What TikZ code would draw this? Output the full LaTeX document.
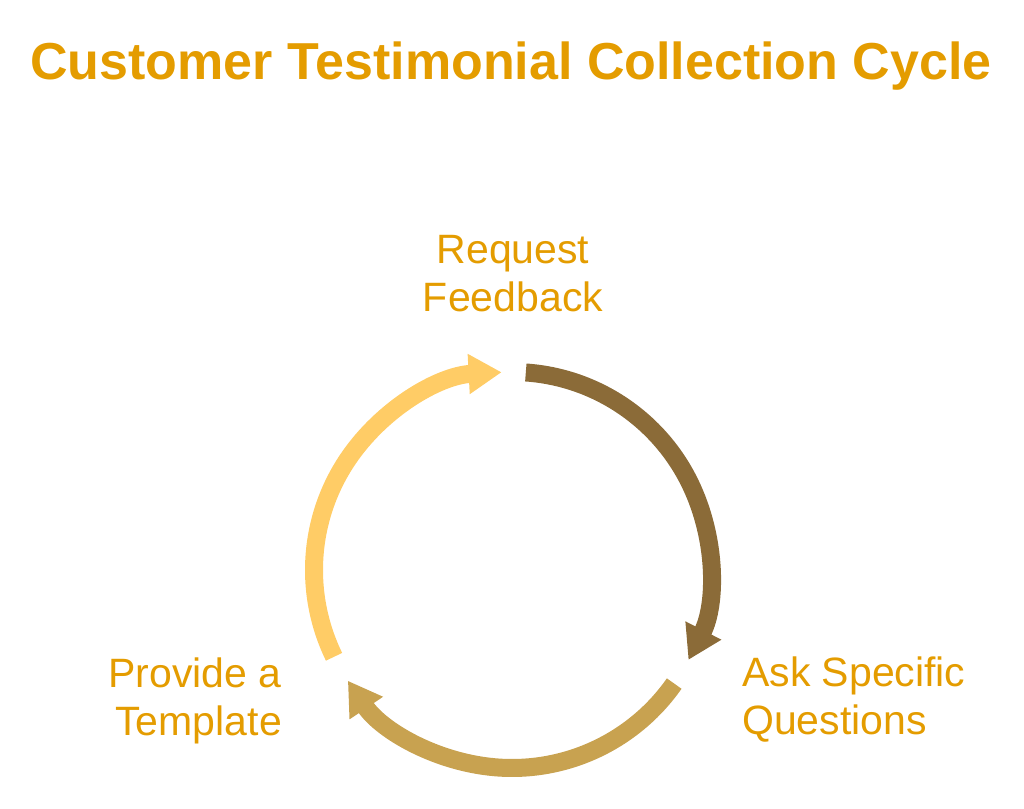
\documentclass[tikz,border=0pt]{standalone}
\usepackage{fontspec}
\setmainfont{Liberation Sans}
\usetikzlibrary{arrows.meta}

\definecolor{titleorange}{RGB}{228,156,0}
\definecolor{arcyellow}{RGB}{255,204,102}
\definecolor{arcbrown}{RGB}{139,107,56}
\definecolor{arctan}{RGB}{200,162,80}

\begin{document}
\begin{tikzpicture}[x=1pt, y=1pt,
    cyclearrow/.style={line width=18pt, -{Triangle[width=38pt, length=33pt]}},
    steplabel/.style={inner sep=0pt, text=titleorange, font=\fontsize{41}{48}\selectfont}]

    % 1. Khung hình và tâm vòng tròn
    \useasboundingbox (0,0) rectangle (1024,808);
    \coordinate (M) at (512,238);

    % 2. Tiêu đề
    \node[anchor=base, inner sep=0pt, text=titleorange,
          font=\fontsize{52}{60}\selectfont\bfseries] (title) at (511,728)
          {Customer Testimonial Collection Cycle};

    % 3. Ba cung mũi tên của vòng lặp
    \draw[cyclearrow, arcbrown]  (M) ++(86:198)  arc[start angle=86,  end angle=-27,  radius=198];
    \draw[cyclearrow, arctan]    (M) ++(-35:198) arc[start angle=-35, end angle=-146, radius=198];
    \draw[cyclearrow, arcyellow] (M) ++(206:198) arc[start angle=206, end angle=93,   radius=198];

    % 4. Nhãn các bước
    \node[steplabel, anchor=north, align=center] (request) at (513,573) {Request\\Feedback};
    \node[steplabel, anchor=north west, align=left] (ask) at (742,151) {Ask Specific\\Questions};
    \node[steplabel, anchor=north east, align=right] (provide) at (282,150) {Provide a\\Template};

\end{tikzpicture}
\end{document}
